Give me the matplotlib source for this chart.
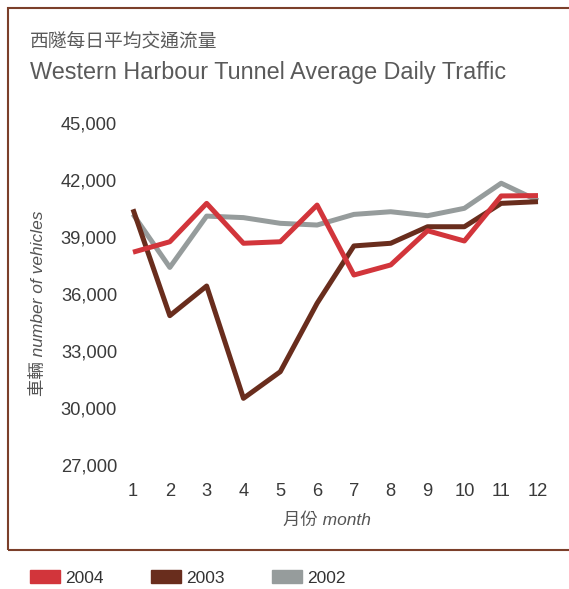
import matplotlib
matplotlib.use('Agg')
import numpy as np
from matplotlib import pyplot as plt
from matplotlib.patches import Rectangle, Patch

# Western Harbour Tunnel average daily traffic
months = list(range(1, 13))
traffic_2004 = [38200, 38750, 40770, 38670, 38750, 40680, 37000, 37530, 39330, 38790, 41160, 41180]
traffic_2003 = [40460, 34860, 36420, 30510, 31910, 35510, 38530, 38670, 39540, 39540, 40770, 40860]
traffic_2002 = [40200, 37400, 40100, 40020, 39720, 39630, 40190, 40330, 40120, 40510, 41830, 40910]
yticks = [27000, 30000, 33000, 36000, 39000, 42000, 45000]

plt.rcParams['font.family'] = ['Liberation Sans', 'Noto Sans CJK TC']

W, H = 569, 589
fig = plt.figure(figsize=(W / 100, H / 100), dpi=100)

def fx(px):
    return px / W

def fy(py):
    return 1 - py / H

# axes placed so that month 1..12 and 27,000..45,000 land where the reference has them
ax = fig.add_axes([fx(133), fy(465), fx(538 - 133), (465 - 123) / H])
ax.set_xlim(1, 12)
ax.set_ylim(27000, 45000)

colors = {'2004': '#d2353b', '2003': '#692d1d', '2002': '#969c9c'}
ax.plot(months, traffic_2002, color=colors['2002'], lw=3.6, clip_on=False, solid_capstyle='butt')
ax.plot(months, traffic_2003, color=colors['2003'], lw=3.6, clip_on=False, solid_capstyle='butt')
ax.plot(months, traffic_2004, color=colors['2004'], lw=3.6, clip_on=False, solid_capstyle='butt')

for s in ax.spines.values():
    s.set_visible(False)
ax.set_xticks(months)
ax.set_yticks(yticks)
ax.set_yticklabels([f'{v:,}' for v in yticks])
ax.tick_params(axis='y', length=0, pad=11.5, labelsize=13.2, labelcolor='#3a3a3a')
ax.tick_params(axis='x', length=0, pad=13, labelsize=13.2, labelcolor='#3a3a3a')

# titles
fig.text(fx(30), fy(42), '西隧每日平均交通流量', fontsize=13.5, color='#5a5a5a', va='center')
fig.text(fx(30), fy(72), 'Western Harbour Tunnel Average Daily Traffic', fontsize=16.8,
         color='#5a5a5a', va='center')

# axis labels
fig.text(fx(38), fy(303), '車輛 number of vehicles', rotation=90, style='italic',
         fontsize=12.5, color='#555555', ha='center', va='center')
fig.text(fx(327), fy(520), '月份 month', style='italic', fontsize=12.5,
         color='#555555', ha='center', va='center')

# frame
fig.patches.append(Rectangle((fx(8), fy(550)), 1.2, fy(8) - fy(550), transform=fig.transFigure,
                             fill=False, edgecolor='#7b3f2a', lw=1.5))

handles = [Patch(color=colors[k], label=k) for k in ['2004', '2003', '2002']]
fig.legend(handles=handles, loc='center left', bbox_to_anchor=(fx(14), fy(578)), ncol=3,
           frameon=False, fontsize=12.5, handlelength=1.75, handleheight=0.8,
           handletextpad=0.3, columnspacing=2.7, labelcolor='#333333')

fig.savefig('out.png', dpi=100)
